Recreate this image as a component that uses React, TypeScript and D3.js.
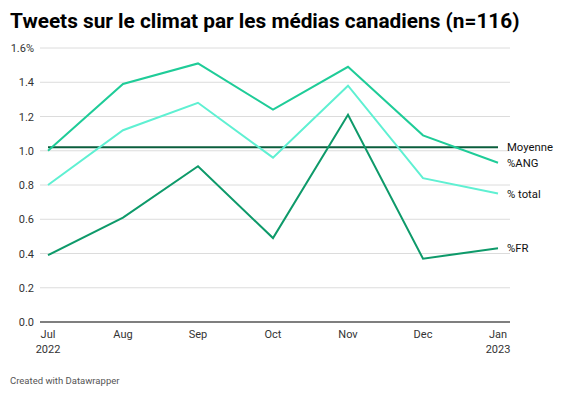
import React from "react";
import * as d3 from "d3";

const months = ["Jul", "Aug", "Sep", "Oct", "Nov", "Dec", "Jan"];
const monthSub = ["2022", "", "", "", "", "", "2023"];
const yTicks = [0, 0.2, 0.4, 0.6, 0.8, 1.0, 1.2, 1.4, 1.6];
const angValues = [1.0, 1.39, 1.51, 1.24, 1.49, 1.09, 0.93];
const totalValues = [0.8, 1.12, 1.28, 0.96, 1.38, 0.84, 0.75];
const frValues = [0.39, 0.61, 0.91, 0.49, 1.21, 0.37, 0.43];
const moyenneValue = 1.02;

const seriesNames = ["%ANG", "% total", "%FR"];
const seriesColors = ["#1fcc98", "#5ff0d2", "#0e9a6a"];
const moyenneColor = "#0b5e3d";

export default function App() {
  const W = 585, H = 396;
  const x = d3.scalePoint<string>().domain(months).range([48, 498]);
  const y = d3.scaleLinear().domain([0, 1.6]).range([322, 48]);
  const line = d3
    .line<number>()
    .x((_, i) => x(months[i]) as number)
    .y((d) => y(d));
  const series = [angValues, totalValues, frValues];
  const font = "Roboto, 'Noto Sans', sans-serif";
  const labelY = [angValues[6], totalValues[6], frValues[6]];
  return (
    <div style={{ position: "absolute", left: 0, top: 0 }}>
      <svg width={W} height={H} style={{ display: "block", background: "#fff" }} fontFamily={font}>
        <text x={10} y={28} fontSize={20.8} fontWeight={700} fill="#000">
          Tweets sur le climat par les médias canadiens (n=116)
        </text>
        {yTicks.map((t) => (
          <g key={t}>
            {t > 0 && (
              <line x1={40} x2={510} y1={y(t)} y2={y(t)} stroke="#dcdcdc" strokeWidth={1} />
            )}
            <text x={34} y={y(t) + 4} fontSize={11} fill="#333" textAnchor="end">
              {t === 1.6 ? "1.6%" : t.toFixed(1)}
            </text>
          </g>
        ))}
        <line x1={40} x2={510} y1={y(0)} y2={y(0)} stroke="#000" strokeWidth={1.2} />
        {months.map((m, i) => (
          <g key={m}>
            <text x={x(m) as number} y={338} fontSize={11} fill="#333" textAnchor="middle">
              {m}
            </text>
            {monthSub[i] && (
              <text x={x(m) as number} y={353} fontSize={11} fill="#333" textAnchor="middle">
                {monthSub[i]}
              </text>
            )}
          </g>
        ))}
        <line
          x1={x(months[0]) as number}
          x2={x(months[6]) as number}
          y1={y(moyenneValue)}
          y2={y(moyenneValue)}
          stroke={moyenneColor}
          strokeWidth={2}
        />
        {series.map((s, i) => (
          <path key={i} d={line(s) || ""} fill="none" stroke={seriesColors[i]} strokeWidth={2} />
        ))}
        <text x={507} y={y(moyenneValue) + 4} fontSize={11.3} fill="#111">
          Moyenne
        </text>
        {seriesNames.map((n, i) => (
          <text key={n} x={507} y={y(labelY[i]) + 4} fontSize={11.3} fill="#111">
            {n}
          </text>
        ))}
        <text x={10} y={384} fontSize={9.5} fill="#555">
          Created with Datawrapper
        </text>
      </svg>
    </div>
  );
}
